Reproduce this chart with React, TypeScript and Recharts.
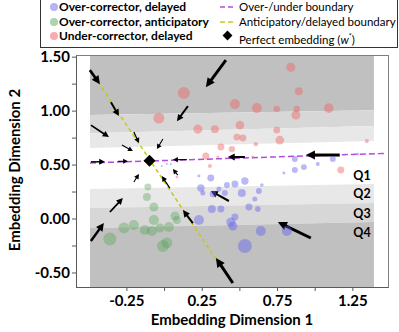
import React from 'react';
import { ComposedChart, XAxis, YAxis, ZAxis, Area, Scatter, ReferenceLine } from 'recharts';

// tick positions; only some get a label
const xTicks = [-0.25, 0, 0.25, 0.5, 0.75, 1.0, 1.25];
const xLabeled = [-0.25, 0.25, 0.75, 1.25];
const yTicks = [-0.5, -0.25, 0, 0.25, 0.5, 0.75, 1.0, 1.25, 1.5];
const yLabeled = [-0.5, 0, 0.5, 1.0, 1.5];

// quantile band boundaries, value at left edge / right edge of the shaded region
const bandX = [-0.495, 1.39];
const upperOuter = [0.963, 1.009];
const upperMid = [0.796, 0.861];
const upperInner = [0.657, 0.722];
const lowerInner = [0.278, 0.324];
const lowerMid = [0.102, 0.148];
const lowerOuter = [-0.083, -0.028];
const bandTop = 1.51;
const bandBottom = -0.63;

// [x, y, size]
const overDelayed: [number, number, number][] = [
  [0.228, 0.398, 7], [0.307, 0.38, 38], [0.414, 0.315, 28], [0.467, 0.324, 38], [0.533, 0.352, 43],
  [0.646, 0.315, 10], [0.241, 0.287, 43], [0.254, 0.241, 20], [0.321, 0.231, 34], [0.361, 0.278, 20],
  [0.4, 0.241, 28], [0.513, 0.241, 50], [0.626, 0.259, 28], [0.599, 0.185, 20], [0.314, 0.093, 50],
  [0.374, 0.093, 38], [0.56, 0.111, 38], [0.619, 0.093, 25], [0.467, 0.019, 38], [0.228, -0.009, 79],
  [0.44, -0.028, 64], [0.453, -0.065, 64], [0.639, -0.111, 79], [0.812, -0.111, 79], [0.533, -0.25, 154],
  [0.865, 0.556, 28], [0.925, 0.481, 28], [0.865, 0.454, 28], [1.017, 0.509, 13], [1.117, 0.556, 28],
  [0.792, 0.426, 7], [1.283, 0.602, 6], [-0.018, 0.491, 3], [0.015, 0.509, 3], [0.042, 0.509, 3],
];

const overAnticipatory: [number, number, number][] = [
  [-0.111, 0.296, 38], [-0.117, 0.204, 50], [-0.071, 0.111, 64], [0.069, 0.028, 64], [0.082, -0.009, 50],
  [-0.071, -0.009, 79], [0.029, -0.074, 79], [-0.031, -0.083, 64], [-0.084, -0.111, 79], [-0.131, -0.102, 79],
  [-0.204, -0.056, 79], [-0.27, -0.083, 95], [-0.363, -0.185, 133], [-0.011, -0.25, 113], [0.015, -0.222, 95],
];

const underDelayed: [number, number, number][] = [
  [0.128, 1.167, 113], [-0.038, 0.935, 95], [0.838, 1.407, 64], [0.891, 1.185, 50], [0.467, 1.065, 79],
  [0.613, 1.028, 79], [0.745, 1.019, 34], [0.878, 1.019, 34], [0.872, 0.963, 64], [1.09, 1.028, 72],
  [0.221, 0.833, 64], [0.334, 0.833, 50], [0.5, 0.87, 58], [0.48, 0.759, 38], [0.52, 0.75, 38],
  [0.745, 0.824, 38], [0.765, 0.731, 58], [0.606, 0.694, 15], [1.343, 0.722, 13], [0.374, 0.667, 38],
  [0.447, 0.648, 32], [0.274, 0.583, 40], [0.354, 0.574, 7], [0.586, 0.574, 7], [0.301, 0.491, 13],
  [1.17, 0.454, 38], [0.082, 0.389, 6],
];

const perfectEmbedding: [number, number] = [-0.1, 0.54];
const overUnderBoundary: [number, number][] = [[-0.495, 0.52], [1.46, 0.608]];
const anticipatoryBoundary: [number, number][] = [[-0.495, 1.38], [0.34, -0.37]];

// gradient arrows: [x from, y from, x to, y to]
const arrows: [number, number, number, number][] = [
  [-0.496, 1.38, -0.429, 1.25], [-0.356, 1.083, -0.303, 0.954], [-0.489, 0.87, -0.369, 0.759],
  [0.155, 1.046, 0.082, 0.907], [0.407, 1.472, 0.274, 1.222], [-0.204, 0.806, -0.17, 0.704],
  [-0.283, 0.685, -0.21, 0.63], [-0.011, 0.741, -0.051, 0.648], [-0.489, 0.53, -0.396, 0.53],
  [-0.31, 0.535, -0.243, 0.535], [0.148, 0.55, 0.055, 0.55], [0.088, 0.407, 0.055, 0.463],
  [-0.204, 0.343, -0.17, 0.417], [0.035, 0.287, -0.018, 0.398], [-0.363, 0.065, -0.277, 0.194],
  [-0.489, -0.204, -0.403, -0.037], [0.188, -0.037, 0.122, 0.083], [0.453, -0.593, 0.341, -0.361],
  [0.427, 0.167, 0.307, 0.259], [0.971, -0.176, 0.752, -0.028], [0.533, 0.575, 0.42, 0.575],
  [1.163, 0.593, 0.938, 0.593],
];

const bandData = bandX.map((x, i) => ({
  x,
  d1: [upperOuter[i], bandTop],
  m1: [upperMid[i], upperOuter[i]],
  l1: [upperInner[i], upperMid[i]],
  l2: [lowerMid[i], lowerInner[i]],
  m2: [lowerOuter[i], lowerMid[i]],
  d2: [bandBottom, lowerOuter[i]],
}));

const toPoints = (arr: [number, number, number][]) => arr.map(([x, y, s]) => ({ x, y, s }));

const FONT = 'Lato, "Open Sans", sans-serif';
const DARK = '#c0c0c0';
const MID = '#d7d7d7';
const LIGHT = '#e8e8e8';
const PURPLE = '#b44be1';
const YELLOW = '#c8c814';

const ArrowShape = (props: any) => {
  const { x1, y1, x2, y2, strokeWidth } = props;
  const w = Number(strokeWidth) || 1.5;
  const dx = x2 - x1;
  const dy = y2 - y1;
  const len = Math.hypot(dx, dy) || 1;
  const ux = dx / len;
  const uy = dy / len;
  const hl = Math.min(2.5 + w * 2.2, len * 0.7);
  const hw = 1.5 + w;
  const bx = x2 - ux * hl;
  const by = y2 - uy * hl;
  return (
    <g>
      <line x1={x1} y1={y1} x2={bx + ux} y2={by + uy} stroke="#000" strokeWidth={w} />
      <polygon points={`${x2},${y2} ${bx - uy * hw},${by + ux * hw} ${bx + uy * hw},${by - ux * hw}`} fill="#000" />
    </g>
  );
};

const DiamondShape = (props: any) => {
  const { cx, cy } = props;
  const r = 6;
  return <polygon points={`${cx},${cy - r} ${cx + r},${cy} ${cx},${cy + r} ${cx - r},${cy}`} fill="#000" />;
};

const arrowWidth = (a: [number, number, number, number]) => {
  const d = Math.hypot(a[0] - perfectEmbedding[0], a[1] - perfectEmbedding[1]);
  return Math.max(1, Math.min(3, 0.6 + 2.2 * d));
};

const tickStyle = { fill: '#000', fontSize: 15, fontWeight: 700, fontFamily: FONT };

const abs = (extra: React.CSSProperties): React.CSSProperties => ({ position: 'absolute', whiteSpace: 'nowrap', ...extra });

function Dash({ color, top }: { color: string; top: number }) {
  return (
    <svg width={14} height={4} style={abs({ left: 179, top: top - 2 })}>
      <line x1={0} y1={2} x2={14} y2={2} stroke={color} strokeWidth={1.5} strokeDasharray="5 3" />
    </svg>
  );
}

function LegendBox() {
  const rowY = [16, 31, 45];
  const left = [
    { label: 'Over-corrector, delayed', color: '#b4b4f6' },
    { label: 'Over-corrector, anticipatory', color: '#acd3ac' },
    { label: 'Under-corrector, delayed', color: '#f8acac' },
  ];
  const rightText = { left: 198, fontSize: 11.5, lineHeight: '16px' };
  return (
    <div style={abs({ left: 40, top: -10, width: 358, height: 58, border: '1px solid #333', boxSizing: 'border-box', background: '#fff' })}>
      {left.map((item, i) => (
        <React.Fragment key={item.label}>
          <div style={abs({ left: 9, top: rowY[i] - 4, width: 8, height: 8, borderRadius: 4, background: item.color })} />
          <div style={abs({ left: 18, top: rowY[i] - 8, fontSize: 12, lineHeight: '16px', fontWeight: 700 })}>{item.label}</div>
        </React.Fragment>
      ))}
      <Dash color={PURPLE} top={rowY[0]} />
      <div style={abs({ ...rightText, top: rowY[0] - 8 })}>Over-/under boundary</div>
      <Dash color={YELLOW} top={rowY[1]} />
      <div style={abs({ ...rightText, top: rowY[1] - 8 })}>Anticipatory/delayed boundary</div>
      <div style={abs({ left: 183, top: rowY[2] - 4, width: 7, height: 7, background: '#000', transform: 'rotate(45deg)' })} />
      <div style={abs({ ...rightText, top: rowY[2] - 8 })}>
        Perfect embedding (<i>w</i><sup style={{ fontSize: 7 }}>*</sup>)
      </div>
    </div>
  );
}

export default function App() {
  return (
    <div style={{ position: 'absolute', left: 0, top: 0, width: 399, height: 332, background: '#fff', fontFamily: FONT, overflow: 'hidden' }}>
      <ComposedChart width={399} height={332} data={bandData} margin={{ top: 55, right: 10, bottom: 0, left: 36 }}>
        <XAxis
          type="number"
          dataKey="x"
          domain={[-0.588, 1.49]}
          allowDataOverflow
          ticks={xTicks}
          interval={0}
          height={45}
          tickSize={4}
          tickMargin={4}
          axisLine={false}
          tickLine={{ stroke: '#595959' }}
          tick={tickStyle}
          tickFormatter={(v: number) => (xLabeled.includes(v) ? v.toFixed(2) : '')}
        />
        <YAxis
          type="number"
          dataKey="y"
          domain={[-0.63, 1.52]}
          allowDataOverflow
          ticks={yTicks}
          interval={0}
          width={40}
          tickSize={4}
          tickMargin={2}
          axisLine={false}
          tickLine={{ stroke: '#595959' }}
          tick={tickStyle}
          tickFormatter={(v: number) => (yLabeled.includes(v) ? v.toFixed(2) : '')}
        />
        <ZAxis type="number" dataKey="s" domain={[0, 160]} range={[0, 160]} />
        <Area dataKey="d1" type="linear" fill={DARK} fillOpacity={1} stroke="none" dot={false} activeDot={false} isAnimationActive={false} />
        <Area dataKey="m1" type="linear" fill={MID} fillOpacity={1} stroke="none" dot={false} activeDot={false} isAnimationActive={false} />
        <Area dataKey="l1" type="linear" fill={LIGHT} fillOpacity={1} stroke="none" dot={false} activeDot={false} isAnimationActive={false} />
        <Area dataKey="l2" type="linear" fill={LIGHT} fillOpacity={1} stroke="none" dot={false} activeDot={false} isAnimationActive={false} />
        <Area dataKey="m2" type="linear" fill={MID} fillOpacity={1} stroke="none" dot={false} activeDot={false} isAnimationActive={false} />
        <Area dataKey="d2" type="linear" fill={DARK} fillOpacity={1} stroke="none" dot={false} activeDot={false} isAnimationActive={false} />
        <Scatter data={toPoints(underDelayed)} fill="#f06464" fillOpacity={0.45} isAnimationActive={false} />
        <Scatter data={toPoints(overDelayed)} fill="#6464ee" fillOpacity={0.45} isAnimationActive={false} />
        <Scatter data={toPoints(overAnticipatory)} fill="#5aa55a" fillOpacity={0.4} isAnimationActive={false} />
        <ReferenceLine
          segment={overUnderBoundary.map(([x, y]) => ({ x, y }))}
          stroke={PURPLE}
          strokeWidth={1.5}
          strokeDasharray="6 3"
          ifOverflow="visible"
        />
        <ReferenceLine
          segment={anticipatoryBoundary.map(([x, y]) => ({ x, y }))}
          stroke={YELLOW}
          strokeWidth={1.5}
          strokeDasharray="4 3"
          ifOverflow="visible"
        />
        {arrows.map((a, i) => (
          <ReferenceLine
            key={i}
            segment={[{ x: a[0], y: a[1] }, { x: a[2], y: a[3] }]}
            stroke="#000"
            strokeWidth={arrowWidth(a)}
            shape={ArrowShape}
            ifOverflow="visible"
          />
        ))}
        <Scatter data={[{ x: perfectEmbedding[0], y: perfectEmbedding[1], s: 50 }]} shape={DiamondShape} isAnimationActive={false} />
      </ComposedChart>

      {/* plot frame */}
      <div style={abs({ left: 76, top: 55, width: 313, height: 233, borderTop: '1px solid #7f7f7f', borderRight: '1px solid #7f7f7f', borderLeft: '1px solid #595959', borderBottom: '1px solid #595959', boxSizing: 'border-box', pointerEvents: 'none' })} />

      {['Q1', 'Q2', 'Q3', 'Q4'].map((q, i) => (
        <div key={q} style={abs({ left: 362, top: [175, 193, 213, 232][i], transform: 'translate(-50%, -50%)', fontSize: 12.5, fontWeight: 700 })}>{q}</div>
      ))}

      <div style={abs({ left: 232, top: 319, transform: 'translate(-50%, -50%)', fontSize: 15, fontWeight: 700 })}>Embedding Dimension 1</div>
      <div style={abs({ left: 14, top: 170, transform: 'translate(-50%, -50%) rotate(-90deg)', fontSize: 15, fontWeight: 700 })}>Embedding Dimension 2</div>

      <LegendBox />
    </div>
  );
}
